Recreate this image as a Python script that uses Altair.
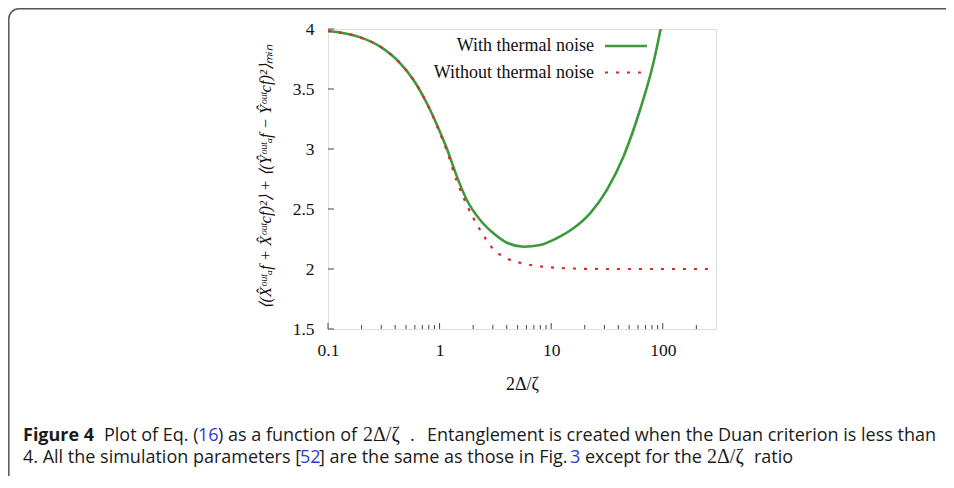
import altair as alt
import pandas as pd

# ---- data ----
series = ["With thermal noise", "Without thermal noise"]
colors = ["#3c9a3c", "#e3242b"]

x_green = [0.1, 0.195, 0.294, 0.444, 0.584, 0.769, 1.0, 1.165, 1.43, 1.755, 2.31, 3.04, 4.0,
           5.64, 7.96, 11.2, 15.8, 22.3, 31.5, 44.4, 62.5, 82.3, 95.7, 105]
y_green = [3.983, 3.93, 3.853, 3.714, 3.575, 3.381, 3.15, 3.0, 2.77, 2.575, 2.408, 2.297, 2.219,
           2.186, 2.2, 2.256, 2.339, 2.464, 2.658, 2.936, 3.325, 3.714, 4.0, 4.2]

x_red = [0.1, 0.195, 0.294, 0.444, 0.584, 0.769, 1.0, 1.165, 1.43, 1.755, 2.31, 3.04, 4.0,
         5.64, 7.96, 11.2, 15.8, 31.5, 100, 300]
y_red = [3.983, 3.93, 3.853, 3.714, 3.575, 3.381, 3.14, 2.98, 2.73, 2.533, 2.325, 2.164, 2.089,
         2.045, 2.022, 2.01, 2.004, 2.0, 2.0, 2.0]

x_major = [0.1, 1, 10, 100]
x_minor = [0.2, 0.3, 0.4, 0.5, 0.6, 0.7, 0.8, 0.9, 2, 3, 4, 5, 6, 7, 8, 9,
           20, 30, 40, 50, 60, 70, 80, 90, 200]
y_ticks = [1.5, 2, 2.5, 3, 3.5, 4]

x_title = "2Δ/ζ"
y_title = "⟨(X̂ᵒᵘᵗₐf + X̂ᵒᵘᵗcf)²⟩ + ⟨(Ŷᵒᵘᵗₐf − Ŷᵒᵘᵗcf)²⟩ₘᵢₙ"

# caption segments: (text, page x, line, weight, colour, align, font)
INK, LINK = "#1a1a1a", "#2b3bd6"
SANS, MATH = "Open Sans", "Liberation Serif"
caption = [
    ("Figure 4", 23, 0, "bold", INK, "left", SANS),
    ("Plot of Eq. (", 104, 0, "normal", INK, "left", SANS),
    ("16", 198, 0, "normal", LINK, "left", SANS),
    (") as a function of", 218, 0, "normal", INK, "left", SANS),
    ("2Δ/ζ", 363, 0, "normal", INK, "left", MATH),
    (".", 410, 0, "normal", INK, "left", SANS),
    ("Entanglement is created when the Duan criterion is less than", 936, 0, "normal", INK, "right", SANS),
    ("4. All the simulation parameters [", 23, 1, "normal", INK, "left", SANS),
    ("52", 300, 1, "normal", LINK, "left", SANS),
    ("] are the same as those in Fig.", 319, 1, "normal", INK, "left", SANS),
    ("3", 570, 1, "normal", LINK, "left", SANS),
    ("except for the", 585, 1, "normal", INK, "left", SANS),
    ("2Δ/ζ", 707, 1, "normal", INK, "left", MATH),
    ("ratio", 754, 1, "normal", INK, "left", SANS),
]

# ---- layout ----
W, H = 388, 300
PADL, PADT = 320, 21
TOTW, TOTH = 938, 468
ORIGX, ORIGY = PADL + 8, PADT + 8  # page coordinates of plot origin

curves = pd.DataFrame({
    "x": x_green + x_red,
    "y": y_green + y_red,
    "series": [series[0]] * len(x_green) + [series[1]] * len(x_red),
})

xscale = alt.Scale(type="log", domain=[0.1, 300], nice=False)
yscale = alt.Scale(domain=[1.5, 4], nice=False, zero=False)

serif = "Liberation Serif"

x_axis = alt.Axis(values=x_major, format="~g", ticks=False, tickSize=0, domain=False, grid=False,
                  labelFont=serif, labelFontSize=17.5, labelColor="#111", labelPadding=12,
                  labelFlush=False,
                  title=x_title, titleFont=serif, titleFontSize=18, titleFontWeight="normal",
                  titleColor="#111", titleX=W / 2, titleY=55, titleBaseline="middle")
y_axis = alt.Axis(values=y_ticks, format="~g", ticks=False, tickSize=0, domain=False, grid=False,
                  labelFont=serif, labelFontSize=17.5, labelColor="#111", labelPadding=14,
                  labelFlush=False,
                  title=y_title, titleFont=serif, titleFontSize=16.5, titleFontWeight="normal",
                  titleFontStyle="italic", titleColor="#111", titleX=-63, titleY=H / 2 - 3,
                  titleBaseline="middle", titleAngle=270)

X = lambda f: alt.X(f, scale=xscale, axis=x_axis, title=x_title)
Y = lambda f: alt.Y(f, scale=yscale, axis=y_axis, title=y_title)

green = alt.Chart(curves).transform_filter(alt.datum.series == series[0]).mark_line(
    color=colors[0], strokeWidth=2.6, clip=True, interpolate="monotone"
).encode(x=X("x:Q"), y=Y("y:Q"))

red = alt.Chart(curves).transform_filter(alt.datum.series == series[1]).mark_line(
    color=colors[1], strokeWidth=2.2, strokeDash=[3, 8], clip=True, interpolate="monotone"
).encode(x=X("x:Q"), y=Y("y:Q"))

xt = pd.DataFrame({"x": x_major + x_minor, "len": [6] * len(x_major) + [4] * len(x_minor)})
x_ticks_major = alt.Chart(xt).transform_filter("datum.len == 6").mark_rule(color="#444", strokeWidth=1).encode(
    x=X("x:Q"), y=alt.value(H), y2=alt.value(H - 6))
x_ticks_minor = alt.Chart(xt).transform_filter("datum.len == 4").mark_rule(color="#444", strokeWidth=1).encode(
    x=X("x:Q"), y=alt.value(H), y2=alt.value(H - 4))
yt = pd.DataFrame({"y": y_ticks})
y_tick_rules = alt.Chart(yt).mark_rule(color="#444", strokeWidth=1).encode(
    y=Y("y:Q"), x=alt.value(0), x2=alt.value(6))

one = pd.DataFrame({"a": [0]})
legend_layers = []
leg_rows = [17, 43.5]
for i, name in enumerate(series):
    legend_layers.append(alt.Chart(one).mark_text(
        font=serif, fontSize=18, align="right", baseline="middle", color="#111"
    ).encode(x=alt.value(266), y=alt.value(leg_rows[i]), text=alt.value(name)))
    legend_layers.append(alt.Chart(one).mark_rule(
        color=colors[i], strokeWidth=2.6 if i == 0 else 2.2,
        strokeDash=[1, 0] if i == 0 else [3, 8]
    ).encode(x=alt.value(277), x2=alt.value(319), y=alt.value(leg_rows[i])))

cap_layers = []
line_y = [441, 463]
for text, px, ln, weight, col, al, fnt in caption:
    cap_layers.append(alt.Chart(one).mark_text(
        font=fnt, fontSize=18 if fnt == SANS else 20, fontWeight=weight, align=al,
        baseline="alphabetic", color=col
    ).encode(x=alt.value(px - ORIGX), y=alt.value(line_y[ln] - ORIGY), text=alt.value(text)))

frame = alt.Chart(one).mark_rect(
    fillOpacity=0, stroke="#555", strokeWidth=1.5, cornerRadius=10
).encode(x=alt.value(-PADL + 0.8), x2=alt.value(TOTW - PADL + 30),
         y=alt.value(-PADT + 0.8), y2=alt.value(TOTH - PADT + 15))

chart = alt.layer(
    green, red, x_ticks_major, x_ticks_minor, y_tick_rules, frame, *legend_layers, *cap_layers
).properties(
    width=W, height=H,
    autosize=alt.AutoSizeParams(type="none"),
    padding={"left": PADL, "top": PADT, "right": TOTW - PADL - W, "bottom": TOTH - PADT - H},
).configure_view(stroke="#333", strokeWidth=1.2).configure(background="white")

chart.save("out.html", embed_options={"renderer": "svg", "actions": False})
